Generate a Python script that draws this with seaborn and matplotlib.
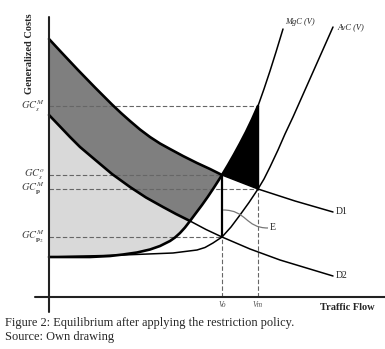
import numpy as np
import pandas as pd
import matplotlib
matplotlib.use("Agg")
import matplotlib.pyplot as plt
import seaborn as sns
from matplotlib.path import Path
from matplotlib.patches import PathPatch

# curve data (traffic flow, generalized cost)
d1_x = [0, 13, 29, 46, 63, 72, 81, 91, 101, 111, 121, 134, 148, 161, 173, 191, 209, 246, 284]
d1_y = [258, 244, 227, 209.5, 192.5, 184, 176, 167.5, 160, 153.5, 148, 141, 134, 128, 122, 115, 108, 96, 85]

d2_x = [0, 11, 21, 31, 44, 63, 81, 97, 114, 127, 141, 157, 173, 201, 231, 284]
d2_y = [182, 170.5, 160, 150, 139, 123, 110, 99.5, 90, 83, 76, 67.5, 60, 48, 37, 21]

mgc_x = [0, 41, 61, 74, 88, 101, 111, 121, 126, 131, 136, 141, 147, 153, 159, 165,
         173, 179, 185, 191, 197, 203, 209, 215, 221, 227, 234]
mgc_y = [40, 40, 41, 42.5, 44.5, 47.5, 51, 56, 59.5, 64, 69.5, 76, 84, 92, 100.5, 109.5,
         122, 132, 142.5, 153.5, 165, 177.5, 191, 208, 226, 245, 268]

avc_x = [0, 74, 124, 148, 156, 164, 173, 182, 191, 200, 209, 215, 221, 229, 236, 244, 254, 264, 274, 284]
avc_y = [40, 42, 44, 47, 49.5, 54, 60, 70, 82, 94.5, 108, 118, 130, 147, 163, 180, 202.5, 225, 247.5, 270]

# equilibrium flows and cost levels
v_o = 173
v_m = 209
v_cross = 141  # where D2 meets MgC
level_names = [r"$GC_s^M$", r"$GC_s^o$", r"$GC_{\mathbf{p}}^M$", r"$GC_{\mathbf{p}_2}^M$"]
level_vals = [191, 122, 108, 60]
level_ends = [v_m, v_o, v_m, v_o]

d1 = pd.DataFrame({"x": d1_x, "y": d1_y})
d2 = pd.DataFrame({"x": d2_x, "y": d2_y})
mgc = pd.DataFrame({"x": mgc_x, "y": mgc_y})
avc = pd.DataFrame({"x": avc_x, "y": avc_y})

sns.set_theme(style="white")
plt.rcParams["font.family"] = ["Liberation Serif", "DejaVu Serif"]
plt.rcParams["mathtext.fontset"] = "stix"

fig = plt.figure(figsize=(3.85, 3.49), dpi=100)
ax = fig.add_axes([0, 0, 1, 1])
ax.set_xlim(-49, 336)
ax.set_ylim(-52, 297)
ax.axis("off")

# shaded areas
light = pd.concat([d2[d2.x <= v_cross], mgc[mgc.x <= v_cross].iloc[::-1]])
ax.fill(light.x, light.y, color="#d9d9d9", lw=0, zorder=1)

dark = pd.concat([d1[d1.x <= v_o],
                  mgc[(mgc.x >= v_cross) & (mgc.x <= v_o)].iloc[::-1],
                  d2[d2.x <= v_cross].iloc[::-1]])
ax.fill(dark.x, dark.y, color="#7f7f7f", lw=0, zorder=1)

black = pd.concat([mgc[(mgc.x >= v_o) & (mgc.x <= v_m)],
                   d1[(d1.x >= v_o) & (d1.x <= v_m)].iloc[::-1]])
ax.fill(black.x, black.y, color="black", lw=0, zorder=1)

# dashed guide lines
dash = dict(color="#666666", lw=0.8, ls=(0, (4, 2)), zorder=2)
for val, end in zip(level_vals, level_ends):
    ax.plot([0, end], [val, val], **dash)
ax.plot([v_o, v_o], [0, level_vals[3]], **dash)
ax.plot([v_m, v_m], [0, level_vals[2]], **dash)

# solid verticals
ax.plot([v_o, v_o], [level_vals[3], level_vals[1]], color="black", lw=1.6, zorder=3)
ax.plot([v_m, v_m], [level_vals[2], level_vals[0]], color="black", lw=1.0, zorder=3)

# curves
def draw(df, cut, thick=1.9, thin=1.1):
    sns.lineplot(data=df[df.x <= cut], x="x", y="y", ax=ax, color="black",
                 lw=thick, sort=False, estimator=None, zorder=4)
    sns.lineplot(data=df[df.x >= cut], x="x", y="y", ax=ax, color="black",
                 lw=thin, sort=False, estimator=None, zorder=4)

sns.lineplot(data=avc, x="x", y="y", ax=ax, color="black", lw=1.1,
             sort=False, estimator=None, zorder=4)
draw(d1, v_o)
draw(d2, v_cross)
draw(mgc, v_m)

# axes lines
ax.plot([0, 0], [-15, 280], color="#222222", lw=1.5, zorder=5)
ax.plot([-14, 336], [0, 0], color="#222222", lw=1.5, zorder=5)

# E connector
path = Path([(v_o + 1, 87), (198, 87), (196, 69), (219, 69)],
            [Path.MOVETO, Path.CURVE4, Path.CURVE4, Path.CURVE4])
ax.add_patch(PathPatch(path, fill=False, color="#777777", lw=0.9, zorder=4))
ax.text(221, 69, "E", fontsize=7, va="center", ha="left", color="#222222")

# labels
for name, val in zip(level_names, level_vals):
    ax.text(-4, val, name, fontsize=7.5, ha="right", va="center", color="#444444")

ax.text(-19, 284, "Generalized Costs", rotation=90, fontsize=7.5,
        fontweight="bold", ha="center", va="top")
ax.text(271, -11, "Traffic Flow", fontsize=7.5, fontweight="bold",
        ha="left", va="center")
ax.text(v_o, -8, "Vo", fontsize=5.5, style="italic", ha="center",
        va="center", color="#555555")
ax.text(v_m, -8, "Vm", fontsize=5.5, style="italic", ha="center",
        va="center", color="#555555")
ax.text(236, 275, "MgC (V)", fontsize=6, style="italic", ha="left", va="center")
ax.text(288, 270, "AvC (V)", fontsize=6, style="italic", ha="left", va="center")
ax.text(287, 85, "D1", fontsize=7, ha="left", va="center", color="#222222")
ax.text(287, 21, "D2", fontsize=7, ha="left", va="center", color="#222222")

ax.text(-44, -26, "Figure 2: Equilibrium after applying the restriction policy.",
        fontsize=8.9, ha="left", va="center")
ax.text(-44, -40, "Source: Own drawing", fontsize=8.9, ha="left", va="center")

fig.savefig("out.png", dpi=100)
